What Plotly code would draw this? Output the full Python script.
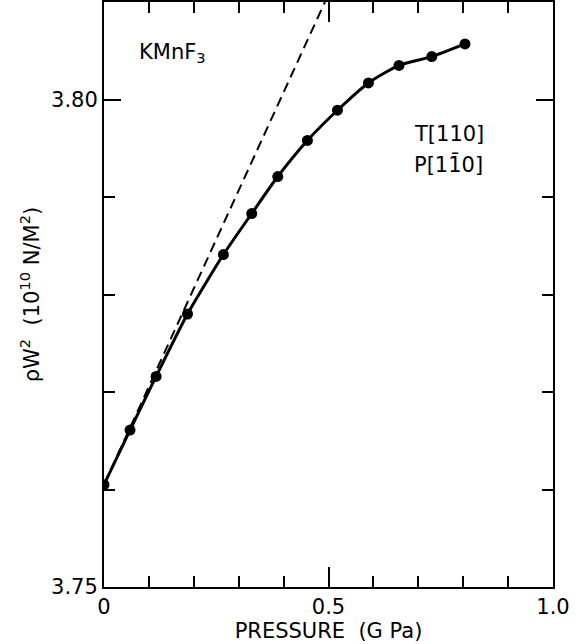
import plotly.graph_objects as go

# Data
pressure = [0, 0.058, 0.116, 0.186, 0.266, 0.329, 0.387, 0.453, 0.520, 0.589, 0.657, 0.730, 0.804]
rho_w2 = [3.7605, 3.7661, 3.7716, 3.7780, 3.7841, 3.7883, 3.7921, 3.7958, 3.7989, 3.8017, 3.8035, 3.8044, 3.8057]

# initial-slope (tangent) line
tangent_x = [0, 0.5]
tangent_y = [3.7605, 3.8108]

x_tickvals = [0, 0.5, 1.0]
x_ticktext = ["0", "0.5", "1.0"]
y_tickvals = [3.75, 3.80]
y_ticktext = ["3.75", "3.80"]

FONT = "DejaVu Sans"
FS = 21

fig = go.Figure()

fig.add_trace(go.Scatter(
    x=tangent_x, y=tangent_y, mode="lines",
    line=dict(color="black", width=2, dash="10px,6px"),
    showlegend=False, hoverinfo="skip",
))

fig.add_trace(go.Scatter(
    x=pressure, y=rho_w2, mode="lines+markers",
    line=dict(color="black", width=3, shape="spline", smoothing=0.6),
    marker=dict(color="black", size=11),
    showlegend=False,
))

axis_common = dict(
    showgrid=False, zeroline=False, showline=True, linecolor="black", linewidth=2,
    mirror="ticks", ticks="inside", tickcolor="black", tickwidth=2,
    tickfont=dict(family=FONT, size=FS, color="black"),
)

fig.update_xaxes(
    range=[0, 1.0], tickvals=x_tickvals, ticktext=x_ticktext, ticklen=20,
    minor=dict(dtick=0.1, tick0=0, ticks="inside", ticklen=11, tickwidth=2, tickcolor="black"),
    title=dict(text="PRESSURE  (G Pa)", font=dict(family=FONT, size=FS, color="black"), standoff=4),
    **axis_common,
)
fig.update_yaxes(
    range=[3.75, 3.81], tickvals=y_tickvals, ticktext=y_ticktext, ticklen=17,
    minor=dict(dtick=0.01, tick0=3.75, ticks="inside", ticklen=11, tickwidth=2, tickcolor="black"),
    title=dict(text="ρW<sup>2</sup>  (10<sup>10</sup> N/M<sup>2</sup>)",
               font=dict(family=FONT, size=FS, color="black"), standoff=6),
    **axis_common,
)

fig.add_annotation(x=0.0735, y=3.8048, xref="x", yref="y", text="KMnF<sub>3</sub>",
                   showarrow=False, xanchor="left", yanchor="middle",
                   font=dict(family=FONT, size=FS, color="black"))
fig.add_annotation(x=0.686, y=3.79646, xref="x", yref="y", text="T[110]",
                   showarrow=False, xanchor="left", yanchor="middle",
                   font=dict(family=FONT, size=FS, color="black"))
fig.add_annotation(x=0.686, y=3.79338, xref="x", yref="y", text="P[11\u03040]",
                   showarrow=False, xanchor="left", yanchor="middle",
                   font=dict(family=FONT, size=FS, color="black"))

fig.update_layout(
    width=579, height=644,
    margin=dict(l=104, r=26, t=2, b=57, autoexpand=False),
    plot_bgcolor="white", paper_bgcolor="white",
)

fig.write_html("out.html", config={"displayModeBar": False},
               post_script="document.body.style.margin='0';")
